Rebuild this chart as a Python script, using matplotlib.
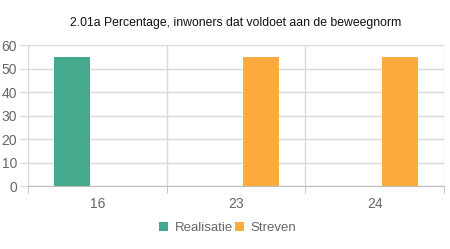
import matplotlib.pyplot as plt
import numpy as np

plt.rcParams['font.family'] = ['Liberation Sans', 'DejaVu Sans']

# Data
categories = ['16', '23', '24']
realisatie = [55, np.nan, np.nan]
streven = [np.nan, 55, 55]

green = '#45aa8d'
orange = '#fdab3e'
grid_color = '#d9d9d9'
text_color = '#666666'

fig = plt.figure(figsize=(4.5, 2.49), dpi=100)
ax = fig.add_axes([0.0622, 0.253, 0.9245, 0.566])

x = np.arange(len(categories))
width = 0.26
ax.bar(x - 0.18, realisatie, width, color=green, label='Realisatie', zorder=3)
ax.bar(x + 0.18, streven, width, color=orange, label='Streven', zorder=3)

ax.set_xlim(-0.5, 2.5)
ax.set_ylim(0, 60)
ax.set_yticks(range(0, 61, 10))
ax.set_xticks(x)
ax.set_xticklabels(categories)

# horizontal grid + category separators
ax.yaxis.grid(True, color=grid_color, linewidth=1, zorder=0)
for b in [-0.5, 0.5, 1.5, 2.5]:
    ax.axvline(b, color=grid_color, linewidth=1, zorder=0)
for s in ['top', 'right', 'left']:
    ax.spines[s].set_visible(False)
ax.spines['bottom'].set_color('#bbbbbb')

ax.tick_params(axis='y', length=6, color=grid_color, labelcolor=text_color, labelsize=10, pad=2)
ax.tick_params(axis='x', length=0, labelcolor=text_color, labelsize=10, pad=8)
# minor ticks at category borders below axis
ax.set_xticks([-0.5, 0.5, 1.5, 2.5], minor=True)
ax.tick_params(axis='x', which='minor', length=5, color='#bbbbbb')

ax.set_title('2.01a Percentage, inwoners dat voldoet aan de beweegnorm',
             fontsize=8.8, color='#111111', pad=14)

ax.legend(loc='upper center', bbox_to_anchor=(0.48, -0.17), ncol=2, frameon=False,
          fontsize=9.5, labelcolor=text_color, handlelength=0.7, handleheight=0.7,
          handletextpad=0.5, columnspacing=0.1)

fig.savefig('out.png', dpi=100)
